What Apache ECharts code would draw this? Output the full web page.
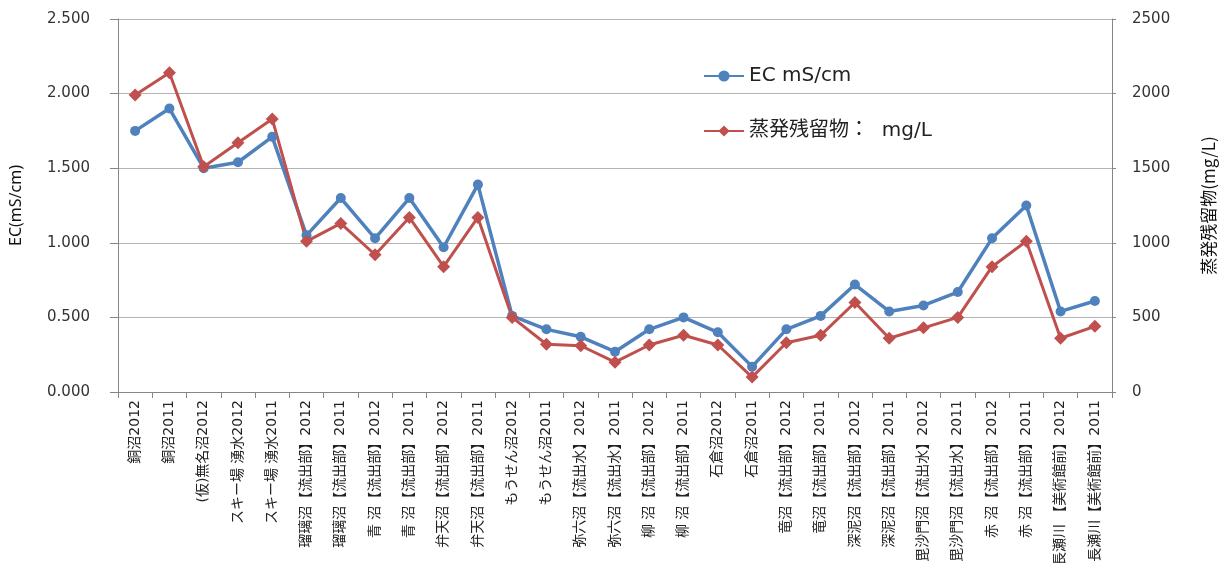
<!DOCTYPE html>
<html>
<head>
<meta charset="utf-8">
<script src="https://cdn.jsdelivr.net/npm/echarts@6/dist/echarts.min.js"></script>
<style>
html,body{margin:0;padding:0;background:#fff;}
#main{width:1221px;height:563px;}
</style>
</head>
<body>
<div id="main"></div>
<script>
// 地点名（x軸）
var categories = [
  '銅沼2012', '銅沼2011', '(仮)無名沼2012', 'スキー場 湧水2012', 'スキー場 湧水2011',
  '瑠璃沼【流出部】2012', '瑠璃沼【流出部】2011', '青 沼【流出部】2012', '青 沼【流出部】2011',
  '弁天沼【流出部】2012', '弁天沼【流出部】2011', 'もうせん沼2012', 'もうせん沼2011',
  '弥六沼【流出水】2012', '弥六沼【流出水】2011', '柳 沼【流出部】2012', '柳 沼【流出部】2011',
  '石倉沼2012', '石倉沼2011', '竜沼【流出部】2012', '竜沼【流出部】2011',
  '深泥沼【流出部】2012', '深泥沼【流出部】2011', '毘沙門沼【流出水】2012', '毘沙門沼【流出水】2011',
  '赤 沼【流出部】2012', '赤 沼【流出部】2011', '長瀬川 【美術館前】2012', '長瀬川【美術館前】2011'
];
// EC mS/cm
var ecValues = [
  1.75, 1.90, 1.50, 1.54, 1.71, 1.05, 1.30, 1.03, 1.30, 0.97,
  1.39, 0.51, 0.42, 0.37, 0.27, 0.42, 0.50, 0.40, 0.17, 0.42,
  0.51, 0.72, 0.54, 0.58, 0.67, 1.03, 1.25, 0.54, 0.61
];
// 蒸発残留物 mg/L
var residueValues = [
  1990, 2140, 1510, 1670, 1830, 1010, 1130, 920, 1170, 840,
  1170, 500, 320, 310, 200, 315, 380, 315, 100, 330,
  380, 600, 360, 430, 500, 840, 1010, 360, 440
];
var leftTicks = [0, 0.5, 1.0, 1.5, 2.0, 2.5];
var rightTicks = [0, 500, 1000, 1500, 2000, 2500];

var myChart = echarts.init(document.getElementById('main'));
var axisGray = '#868686';
var option = {
  backgroundColor: '#fff',
  animation: false,
  grid: {left: 118, right: 109, top: 19, bottom: 171, outerBoundsMode: 'none'},
  legend: {
    orient: 'vertical',
    left: 698,
    top: 61,
    itemGap: 35,
    itemWidth: 40,
    itemHeight: 14,
    textStyle: {fontSize: 20, color: '#222', fontFamily: 'DejaVu Sans, Noto Sans CJK JP'},
    data: ['EC mS/cm', '蒸発残留物：  mg/L']
  },
  xAxis: {
    type: 'category',
    data: categories,
    boundaryGap: true,
    axisLine: {lineStyle: {color: axisGray}},
    axisTick: {show: true, length: 6, lineStyle: {color: axisGray}},
    axisLabel: {
      interval: 0,
      rotate: 90,
      margin: 8,
      fontSize: 14,
      color: '#222',
      fontFamily: 'DejaVu Sans, Noto Sans CJK JP'
    }
  },
  yAxis: [
    {
      type: 'value',
      min: leftTicks[0],
      max: leftTicks[leftTicks.length - 1],
      interval: 0.5,
      name: 'EC(mS/cm)',
      nameLocation: 'middle',
      nameRotate: 90,
      nameGap: 94,
      nameTextStyle: {fontSize: 16, color: '#111', fontFamily: 'Noto Sans'},
      axisLine: {show: true, lineStyle: {color: axisGray}},
      axisTick: {show: true, length: 8, lineStyle: {color: axisGray}},
      axisLabel: {
        margin: 28,
        fontSize: 15,
        color: '#333',
        fontFamily: 'DejaVu Sans',
        formatter: function (v) { return v.toFixed(3); }
      },
      splitLine: {show: true, lineStyle: {color: '#b4b4b4', width: 1}}
    },
    {
      type: 'value',
      min: rightTicks[0],
      max: rightTicks[rightTicks.length - 1],
      interval: 500,
      name: '蒸発残留物(mg/L)',
      nameLocation: 'middle',
      nameRotate: 90,
      nameGap: 88,
      nameTextStyle: {fontSize: 17, color: '#111', fontFamily: 'Noto Sans CJK JP'},
      axisLine: {show: true, lineStyle: {color: axisGray}},
      axisTick: {show: true, length: 4, lineStyle: {color: axisGray}},
      axisLabel: {
        margin: 20,
        fontSize: 15,
        color: '#333',
        fontFamily: 'DejaVu Sans',
        formatter: function (v) { return String(v); }
      },
      splitLine: {show: false}
    }
  ],
  series: [
    {
      name: 'EC mS/cm',
      type: 'line',
      yAxisIndex: 0,
      data: ecValues,
      symbol: 'circle',
      symbolSize: 10,
      lineStyle: {color: '#4F81BD', width: 3.5},
      itemStyle: {color: '#4F81BD'}
    },
    {
      name: '蒸発残留物：  mg/L',
      type: 'line',
      yAxisIndex: 1,
      data: residueValues,
      symbol: 'diamond',
      symbolSize: 13,
      lineStyle: {color: '#C0504D', width: 3},
      itemStyle: {color: '#C0504D'}
    }
  ]
};
myChart.setOption(option);
</script>
</body>
</html>
